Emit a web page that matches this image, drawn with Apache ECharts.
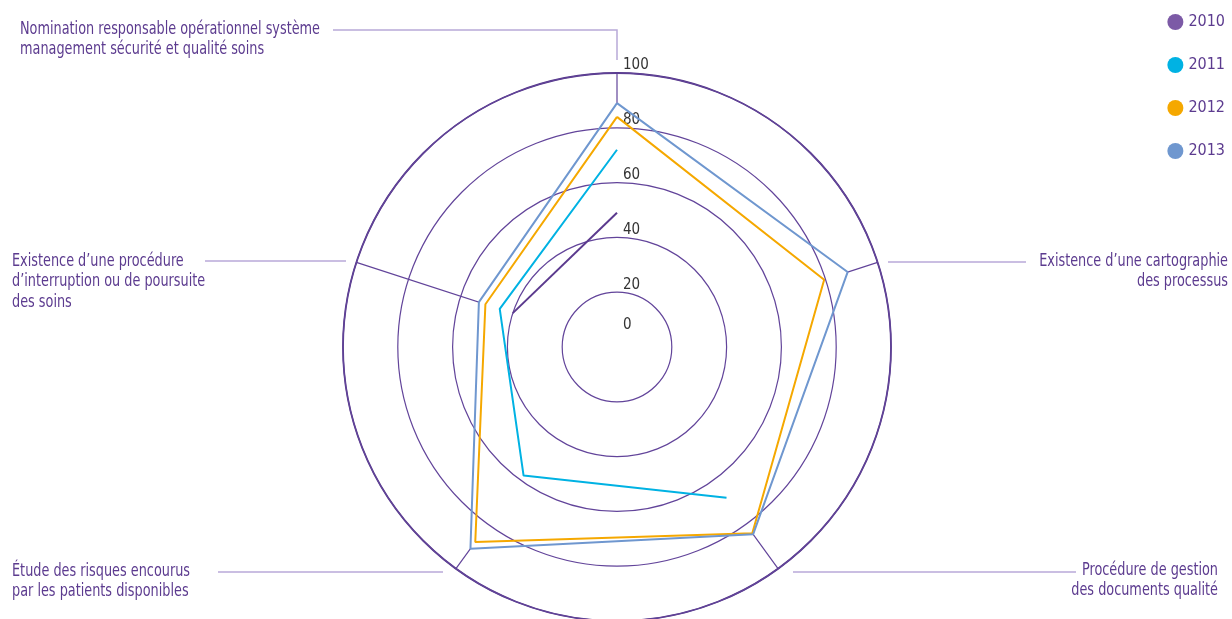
<!DOCTYPE html>
<html>
<head>
<meta charset="utf-8">
<script src="https://cdn.jsdelivr.net/npm/echarts@6/dist/echarts.min.js"></script>
<style>
  html, body { margin: 0; padding: 0; background: #fff; }
  #chart { width: 1232px; height: 619px; }
</style>
</head>
<body>
<div id="chart"></div>
<script>
// axes, clockwise from the top
const indicators = [
  "Nomination responsable opérationnel système\nmanagement sécurité et qualité soins",
  "Existence d’une cartographie\ndes processus",
  "Procédure de gestion\ndes documents qualité",
  "Étude des risques encourus\npar les patients disponibles",
  "Existence d’une procédure\nd’interruption ou de poursuite\ndes soins",
];
const years = ["2010", "2011", "2012", "2013"];
const values2010 = [49, null, null, null, 40];
const values2011 = [72, null, 68, 58, 45];
const values2012 = [84, 79.5, 84, 88, 50.5];
const values2013 = [89, 88.5, 84.5, 91, 53];
const tickLabels = [0, 20, 40, 60, 80, 100];

const FONT = "'DejaVu Sans Condensed', 'DejaVu Sans', sans-serif";
const PURPLE = "#5c3b8f";
const RING = "#62449a";
const LEADER = "#b8a9d8";
const lineColors = ["#5b3a8e", "#00b2e3", "#f5a800", "#6f97cf"];
const dotColors = ["#7c5aa6", "#00b2e3", "#f5a800", "#6f97cf"];

// close the loop: last point sits on angle 5 (== top)
const toPolar = (vals) =>
  vals.concat([vals[0]]).map((v, i) => [v == null ? "-" : v, i]);

const chart = echarts.init(document.getElementById("chart"));

const lineSeries = [values2010, values2011, values2012, values2013].map((vals, i) => ({
  name: years[i],
  type: "line",
  coordinateSystem: "polar",
  data: toPolar(vals),
  showSymbol: false,
  symbol: "none",
  connectNulls: false,
  z: 3,
  itemStyle: { color: dotColors[i] },
  lineStyle: { color: lineColors[i], width: 2 },
  emphasis: { disabled: true },
}));

// white fill under the outer polygon hides the spokes inside it
const maskSeries = {
  name: "mask",
  type: "line",
  coordinateSystem: "polar",
  data: toPolar(values2013),
  symbol: "none",
  silent: true,
  z: 1,
  lineStyle: { opacity: 0 },
  areaStyle: { color: "#fff", opacity: 1 },
};

const labelText = (x, y, text, align) => ({
  type: "text",
  x: x,
  y: y,
  scaleX: 0.84,
  style: {
    text: text,
    fill: PURPLE,
    font: "17px " + FONT,
    lineHeight: 20.5,
    align: align,
    verticalAlign: "top",
  },
});

const leader = (points) => ({
  type: "polyline",
  shape: { points: points },
  style: { stroke: LEADER, lineWidth: 1.5, fill: null },
});

const option = {
  animation: false,
  backgroundColor: "#fff",
  legend: {
    data: years,
    orient: "vertical",
    right: 2,
    top: 9,
    icon: "circle",
    itemWidth: 16,
    itemHeight: 16,
    itemGap: 27,
    textStyle: { color: PURPLE, fontSize: 16, fontFamily: FONT },
  },
  polar: { center: [617, 347], radius: 274 },
  angleAxis: {
    type: "value",
    min: 0,
    max: 5,
    interval: 1,
    startAngle: 90,
    clockwise: true,
    z: 0,
    axisLine: { lineStyle: { color: "#553788", width: 1.8 } },
    axisTick: { show: false },
    axisLabel: { show: false },
    splitLine: { show: true, lineStyle: { color: RING, width: 1.2 } },
  },
  radiusAxis: {
    type: "value",
    min: 0,
    max: 100,
    interval: 20,
    z: 2,
    axisLine: { show: false },
    axisTick: { show: false },
    splitLine: { show: true, lineStyle: { color: RING, width: 1.2 } },
    axisLabel: {
      show: true,
      margin: -6,
      align: "left",
      verticalAlign: "bottom",
      color: "#333",
      fontSize: 15,
      fontFamily: FONT,
      formatter: (v) =>
        tickLabels.indexOf(v) < 0 ? "" : v === 0 ? "{z|0}" : String(v),
      rich: { z: { padding: [0, 0, 14, 0] } },
    },
  },
  graphic: [
    labelText(20, 19, indicators[0], "left"),
    labelText(1228, 251, indicators[1], "right"),
    labelText(1218, 560, indicators[2], "right"),
    labelText(12, 561, indicators[3], "left"),
    labelText(12, 251, indicators[4], "left"),
    leader([[333, 30], [617, 30], [617, 60]]),
    leader([[888, 262], [1026, 262]]),
    leader([[793, 572], [1076, 572]]),
    leader([[218, 572], [443, 572]]),
    leader([[205, 261], [346, 261]]),
  ],
  series: [maskSeries].concat(lineSeries),
};

chart.setOption(option);
</script>
</body>
</html>
